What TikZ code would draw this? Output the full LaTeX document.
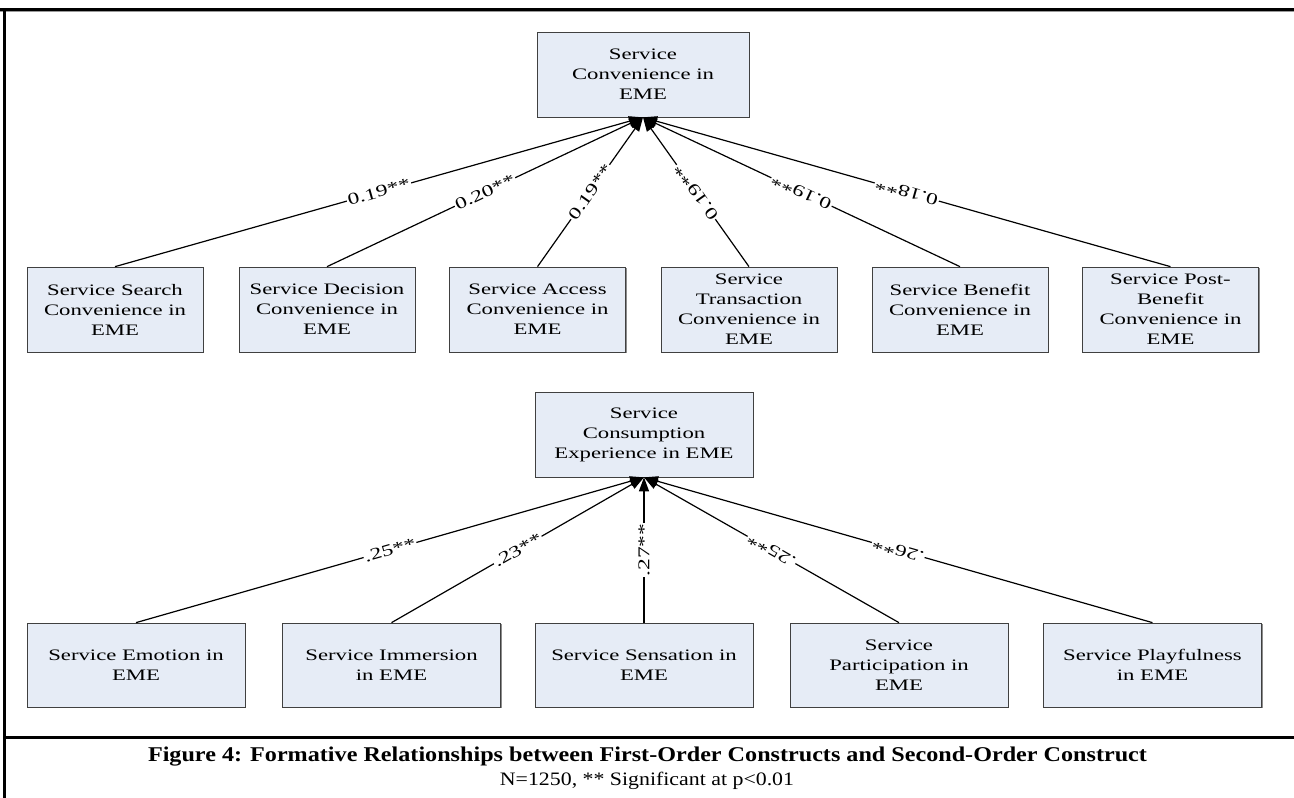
\documentclass[tikz,border=0pt]{standalone}
\usepackage{fontspec}
\setmainfont{Liberation Serif}
\newfontfamily\diafont[FakeStretch=1.42]{Liberation Serif}
\newfontfamily\capfont[FakeStretch=1.15]{Liberation Serif}
\usetikzlibrary{arrows.meta,shadows}
\definecolor{boxfill}{RGB}{230,236,246}

\begin{document}
\begin{tikzpicture}[x=1pt,y=-1pt,
  cbox/.style={draw=black!75, line width=0.7pt, fill=boxfill, align=center,
    inner sep=2pt, font=\diafont\fontsize{16}{20}\selectfont,
    drop shadow={shadow xshift=1.2pt, shadow yshift=-1.2pt, fill=black!45, opacity=1}},
  topbox/.style={cbox, minimum width=212pt, minimum height=85pt},
  sbox/.style={cbox, minimum width=176pt, minimum height=85pt},
  wbox/.style={cbox, minimum width=218pt, minimum height=84pt},
  link/.style={line width=1.2pt, -{Triangle[length=14pt,width=10pt]}},
  lab/.style={fill=white, inner sep=1pt, midway, sloped, allow upside down,
    font=\diafont\fontsize{16.5}{20}\selectfont},
  frameline/.style={line width=3pt, black}]

% page area
\fill[white] (0,0) rectangle (1294,798);
\useasboundingbox (0,0) rectangle (1294,798);

% frame lines
\draw[black!40, line width=1pt] (0,11) -- (1294,11);
\draw[frameline] (0,9) -- (1294,9);
\draw[frameline] (4,9) -- (4,798);
\draw[frameline] (4,737) -- (1294,737);

% second-order construct: convenience
\node[topbox] (conv) at (643,74.5) {Service\\Convenience in\\EME};

% first-order convenience constructs
\node[sbox] (search)   at (115,309.5)   {Service Search\\Convenience in\\EME};
\node[sbox] (decision) at (327,309.5)   {Service Decision\\Convenience in\\EME};
\node[sbox] (access)   at (537.5,309.5) {Service Access\\Convenience in\\EME};
\node[sbox] (trans)    at (749,309.5)   {Service\\Transaction\\Convenience in\\EME};
\node[sbox] (benefit)  at (960,309.5)   {Service Benefit\\Convenience in\\EME};
\node[sbox] (post)     at (1170.5,309.5){Service Post-\\Benefit\\Convenience in\\EME};

\draw[link] (search.north)   -- node[lab]{0.19**} (conv.south);
\draw[link] (decision.north) -- node[lab]{0.20**} (conv.south);
\draw[link] (access.north)   -- node[lab]{0.19**} (conv.south);
\draw[link] (trans.north)    -- node[lab]{0.19**} (conv.south);
\draw[link] (benefit.north)  -- node[lab]{0.19**} (conv.south);
\draw[link] (post.north)     -- node[lab]{0.18**} (conv.south);

% second-order construct: consumption experience
\node[wbox, minimum height=85pt] (cons) at (644,434.5) {Service\\Consumption\\Experience in EME};

% first-order experience constructs
\node[wbox] (emotion)  at (136,665)   {Service Emotion in\\EME};
\node[wbox] (immer)    at (391.5,665) {Service Immersion\\in EME};
\node[wbox] (sensa)    at (644,665)   {Service Sensation in\\EME};
\node[wbox] (partic)   at (899,665)   {Service\\Participation in\\EME};
\node[wbox] (play)     at (1152.5,665){Service Playfulness\\in EME};

\draw[link] (emotion.north) -- node[lab]{.25**} (cons.south);
\draw[link] (immer.north)   -- node[lab]{.23**} (cons.south);
\draw[link] (sensa.north)   -- node[lab]{.27**} (cons.south);
\draw[link] (partic.north)  -- node[lab]{.25**} (cons.south);
\draw[link] (play.north)    -- node[lab]{.26**} (cons.south);

% caption
\node[font=\capfont\bfseries\fontsize{21}{24}\selectfont] (cap1) at (647.5,757)
  {Figure 4: Formative Relationships between First-Order Constructs and Second-Order Construct};
\node[font=\capfont\fontsize{19}{22}\selectfont] (cap2) at (647,781)
  {N=1250, ** Significant at p<0.01};
\end{tikzpicture}
\end{document}
